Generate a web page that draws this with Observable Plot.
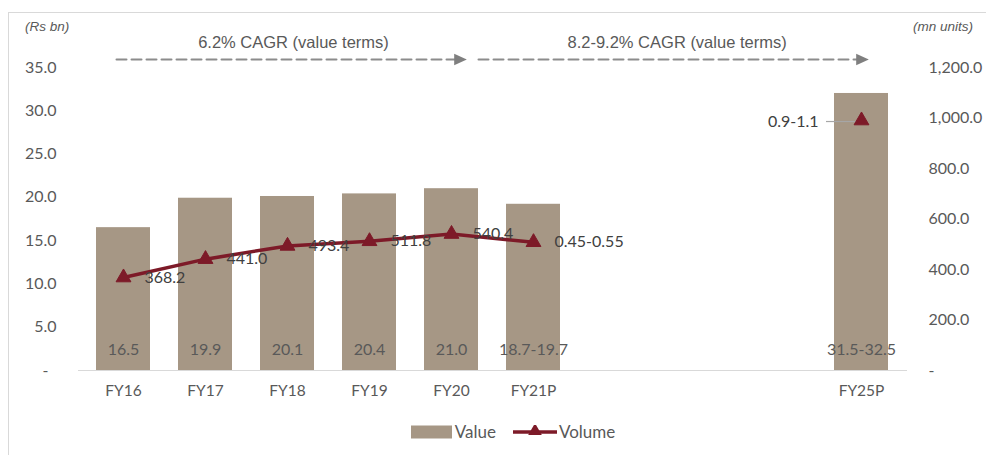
<!DOCTYPE html>
<html>
<head>
<meta charset="utf-8">
<script src="https://cdn.jsdelivr.net/npm/d3@7"></script>
<script src="https://cdn.jsdelivr.net/npm/@observablehq/plot@0.6"></script>
<style>
  html, body { margin: 0; padding: 0; background: #fff; }
  #wrap { position: relative; width: 986px; height: 455px; overflow: hidden; font-family: Lato, sans-serif; }
  #frame { position: absolute; left: 8px; top: 12px; width: 990px; height: 460px; border-left: 1px solid #d9d9d9; border-top: 1px solid #d9d9d9; }
  #chart { position: absolute; left: 0; top: 0; }
  .unit { position: absolute; top: 19px; font-family: "Liberation Sans", Arial, sans-serif; font-style: italic; font-size: 13.5px; color: #595959; }
  #legend { position: absolute; top: 421px; left: 20px; width: 986px; display: flex; justify-content: center; align-items: center; font-family: Lato, sans-serif; font-size: 17px; color: #595959; }
  #legend .item { display: flex; align-items: center; }
</style>
</head>
<body>
<div id="wrap">
  <div id="frame"></div>
  <div id="chart"></div>
  <div class="unit" style="left:25px">(Rs bn)</div>
  <div class="unit" style="left:913px">(mn units)</div>
  <div id="legend"></div>
</div>
<script>
// ---- data ----
const categories   = ["FY16", "FY17", "FY18", "FY19", "FY20", "FY21P", " ", "  ", "   ", "FY25P"];
const valueMid     = [16.5, 19.9, 20.1, 20.4, 21.0, 19.2, null, null, null, 32.0];
const valueLabels  = ["16.5", "19.9", "20.1", "20.4", "21.0", "18.7-19.7", null, null, null, "31.5-32.5"];
const volume       = [368.2, 441.0, 493.4, 511.8, 540.4, 508, null, null, null, 990];
const volumeLabels = ["368.2", "441.0", "493.4", "511.8", "540.4", "0.45-0.55", null, null, null, "0.9-1.1"];
const leftTicks    = [0, 5, 10, 15, 20, 25, 30, 35];
const rightTicks   = [0, 200, 400, 600, 800, 1000, 1200];
const cagrNotes    = [
  {from: "FY16", to: "FY20", label: "6.2% CAGR (value terms)"},
  {from: "FY21P", to: "FY25P", label: "8.2-9.2% CAGR (value terms)"}
];
const seriesNames  = ["Value", "Volume"];

const Y_MAX = 35, V_MAX = 1200;
const toY = v => v * Y_MAX / V_MAX;

const barColor = "#a69785";
const lineColor = "#7d1a28";
const textGray = "#595959";

const rows = categories.map((c, i) => ({
  cat: c, value: valueMid[i], valueLabel: valueLabels[i],
  volume: volume[i], vy: volume[i] == null ? null : toY(volume[i]), volumeLabel: volumeLabels[i]
}));
const bars = rows.filter(d => d.value != null);
const hist = rows.slice(0, 6);
const proj = rows.filter(d => d.cat === "FY25P");

const triRight = {
  draw(ctx, size) {
    const h = Math.sqrt(size) * 1.0;
    ctx.moveTo(h * 0.55, 0);
    ctx.lineTo(-h * 0.55, -h * 0.5);
    ctx.lineTo(-h * 0.55, h * 0.5);
    ctx.closePath();
  }
};

const fmt1 = d3.format(",.1f");
const dash = "10,5";
const arrowGray = "#8c8c8c";

const plot = Plot.plot({
  width: 986,
  height: 410,
  marginLeft: 78,
  marginRight: 79,
  marginTop: 67,
  marginBottom: 40,
  style: {fontFamily: "Lato, sans-serif", fontSize: "15px", color: textGray, background: "transparent"},
  x: {type: "band", domain: categories, paddingInner: 0.34, paddingOuter: 0.17, axis: null},
  y: {domain: [0, Y_MAX], axis: null},
  marks: [
    Plot.axisX({tickSize: 0, tickPadding: 14, fontSize: 15.5}),
    Plot.axisY(leftTicks, {anchor: "left", tickSize: 0, tickPadding: 22, fontSize: 16,
      tickFormat: d => d === 0 ? "-\u2002" : d3.format(".1f")(d)}),
    Plot.axisY(rightTicks.map(toY), {anchor: "right", tickSize: 0, tickPadding: 21, fontSize: 16,
      tickFormat: d => { const v = Math.round(d * V_MAX / Y_MAX); return v === 0 ? "-" : fmt1(v); }}),
    Plot.barY(bars, {x: "cat", y: "value", fill: barColor}),
    Plot.ruleY([0], {stroke: "#d9d9d9", strokeWidth: 1.2}),
    Plot.text(bars, {x: "cat", y: 0, text: "valueLabel", dy: -21, fill: textGray, fontSize: 16}),
    Plot.line(hist, {x: "cat", y: "vy", stroke: lineColor, strokeWidth: 3.5}),
    Plot.tickY(proj, {x: "cat", y: "vy", dy: 1, insetLeft: -8, insetRight: 31, stroke: "#a6a6a6", strokeWidth: 1.2}),
    Plot.dot(rows.filter(d => d.vy != null), {x: "cat", y: "vy", symbol: "triangle", r: 5.5, fill: lineColor, stroke: lineColor, strokeWidth: 1}),
    Plot.text(hist, {x: "cat", y: "vy", text: "volumeLabel", textAnchor: "start", dx: 21, fill: "#404040", fontSize: 16}),
    Plot.text(proj, {x: "cat", y: "vy", text: "volumeLabel", textAnchor: "end", dx: -43, dy: 1, fill: "#404040", fontSize: 16}),
    // CAGR annotations
    Plot.arrow([cagrNotes[0]], {x1: "from", x2: "to", y1: Y_MAX, y2: Y_MAX, dy: -8, insetStart: -7, insetEnd: -4,
      headLength: 0, stroke: arrowGray, strokeWidth: 2, strokeDasharray: dash}),
    Plot.arrow([cagrNotes[1]], {x1: "from", x2: "to", y1: Y_MAX, y2: Y_MAX, dy: -8, insetStart: -55, insetEnd: 2,
      headLength: 0, stroke: arrowGray, strokeWidth: 2, strokeDasharray: dash}),
    Plot.dot([cagrNotes[0]], {x: "to", y: Y_MAX, dy: -8, dx: 9, symbol: triRight, r: 6.5, fill: "#7f7f7f"}),
    Plot.dot([cagrNotes[1]], {x: "to", y: Y_MAX, dy: -8, dx: 1, symbol: triRight, r: 6.5, fill: "#7f7f7f"}),
    Plot.text([cagrNotes[0]], {x: "from", y: Y_MAX, dy: -25, dx: 170, text: "label", textAnchor: "middle",
      fontFamily: "Liberation Sans, Arial, sans-serif", fontSize: 16.5, fill: textGray}),
    Plot.text([cagrNotes[1]], {x: "from", y: Y_MAX, dy: -25, dx: 34, text: "label", textAnchor: "start",
      fontFamily: "Liberation Sans, Arial, sans-serif", fontSize: 16.5, fill: textGray})
  ]
});
document.getElementById("chart").appendChild(plot);

// legend
const legend = document.getElementById("legend");
legend.innerHTML = `
  <div class="item">
    <svg width="41" height="14" style="margin-right:3px"><rect width="41" height="13" y="0.5" fill="${barColor}"></rect></svg>
    <span>${seriesNames[0]}</span>
  </div>
  <div class="item" style="margin-left:17px">
    <svg width="44" height="14" style="margin-right:2px">
      <line x1="0" x2="44" y1="7" y2="7" stroke="${lineColor}" stroke-width="3.5"></line>
      <path d="${d3.symbol(d3.symbolTriangle, 80)()}" transform="translate(22,6)" fill="${lineColor}"></path>
    </svg>
    <span>${seriesNames[1]}</span>
  </div>`;
</script>
</body>
</html>
